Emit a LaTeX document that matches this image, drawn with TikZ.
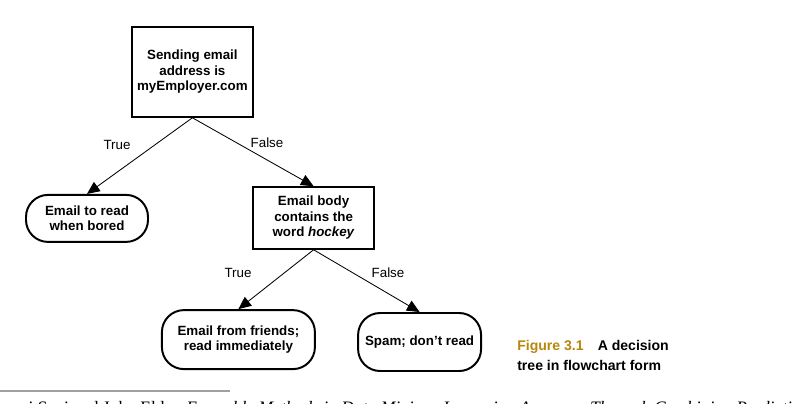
\documentclass[tikz,border=0pt]{standalone}
\usepackage{fontspec}
\setmainfont{Liberation Sans}
\newfontfamily\notefont{Liberation Serif}
\usetikzlibrary{arrows.meta,positioning}
\definecolor{capgold}{HTML}{B8860B}
\definecolor{rulegray}{HTML}{A0A0A0}

\begin{document}
\begin{tikzpicture}[
    test/.style={rectangle, draw=black, line width=1.1pt, fill=white,
                 font=\fontsize{9.5}{11}\selectfont\bfseries, align=center, inner sep=2pt},
    leaf/.style={rectangle, draw=black, line width=1.4pt, rounded corners=0.55cm,
                 font=\fontsize{9.5}{11}\selectfont\bfseries, align=center, inner sep=2pt},
    arr/.style={-{Triangle[length=9pt,width=8pt]}, line width=0.6pt},
    lbl/.style={font=\fontsize{9.5}{11}\selectfont},
    figcap/.style={font=\fontsize{10}{12}\selectfont\bfseries, anchor=base west, inner sep=0pt}
  ]
  \useasboundingbox (0,0) rectangle (20.075,-10.075);
  \clip (0,0) rectangle (20.075,-10.075);

  % decision boxes
  \node[test, minimum width=3.025cm, minimum height=2.25cm] (sender) at (4.81,-1.8)
       {Sending email\\address is\\myEmployer.com};
  \node[test, minimum width=3.025cm, minimum height=1.55cm] (body) at (7.84,-5.45)
       {Email body\\contains the\\word \textit{hockey}};

  % outcomes
  \node[leaf, minimum width=3.05cm, minimum height=1.175cm] (bored) at (2.175,-5.46)
       {Email to read\\when bored};
  \node[leaf, minimum width=3.825cm, minimum height=1.475cm] (friends) at (5.96,-8.49)
       {Email from friends;\\read immediately};
  \node[leaf, minimum width=3.075cm, minimum height=1.45cm] (spam) at (10.49,-8.55)
       {Spam; don't read};

  \draw[arr] (sender.south) -- (bored.north);
  \draw[arr] (sender.south) -- (body.north);
  \draw[arr] (body.south) -- (friends.north);
  \draw[arr] (body.south) -- (spam.north);

  \node[lbl] (t1) at (2.925,-3.625) {True};
  \node[lbl] (f1) at (6.675,-3.575) {False};
  \node[lbl] (t2) at (5.95,-6.825)  {True};
  \node[lbl] (f2) at (9.7,-6.825)   {False};

  % caption
  \node[figcap] (cap1) at (12.925,-8.75) {\textcolor{capgold}{Figure 3.1}\quad A decision};
  \node[figcap] (cap2) at (12.925,-9.25) {tree in flowchart form};

  % footnote, cut off by the page
  \draw[rulegray, line width=1pt] (0,-9.775) coordinate (r0) -- (5.75,-9.775) coordinate (r1);
  \node[anchor=base west, inner sep=0pt, font=\notefont\fontsize{12.45}{14}\selectfont] (note)
       at (-0.8,-10.33) {Giovanni Seni and John Elder, \textit{Ensemble Methods in Data Mining:
       Improving Accuracy Through Combining Predictions}};
\end{tikzpicture}
\end{document}
